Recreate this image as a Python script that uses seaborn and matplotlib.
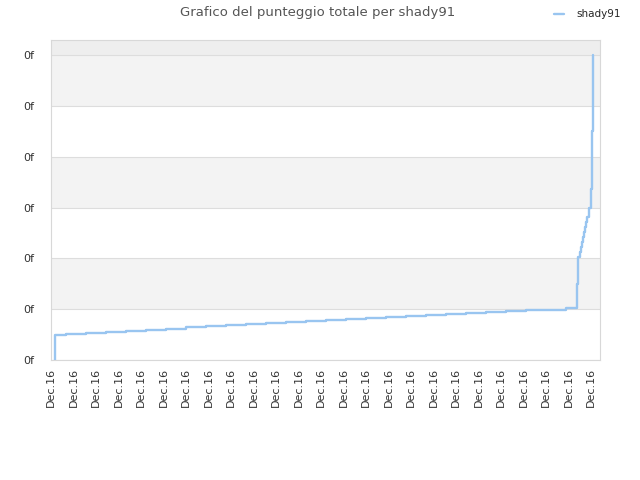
import matplotlib
matplotlib.use("Agg")
import matplotlib.pyplot as plt
import seaborn as sns
import pandas as pd
from matplotlib.ticker import FixedLocator, FixedFormatter

# score history of shady91 (x in tick units, y in grid units)
time_pos = [0.18, 0.18, 0.67, 1.56, 2.44, 3.33, 4.22, 5.11, 6.0, 6.89, 7.78, 8.67,
            9.56, 10.44, 11.33, 12.22, 13.11, 14.0, 14.89, 15.78, 16.67, 17.56,
            18.44, 19.33, 20.22, 21.11, 22.0, 22.89, 23.39, 23.44, 23.49, 23.54,
            23.59, 23.64, 23.69, 23.74, 23.79, 23.84, 23.89, 23.92, 23.99, 24.03,
            24.06, 24.08, 24.10]
score = [0.0, 0.49, 0.52, 0.54, 0.56, 0.58, 0.60, 0.62, 0.64, 0.66, 0.68, 0.70,
         0.72, 0.74, 0.76, 0.78, 0.80, 0.82, 0.84, 0.86, 0.88, 0.90, 0.92, 0.94,
         0.96, 0.98, 0.99, 1.02, 1.50, 2.03, 2.12, 2.22, 2.32, 2.42, 2.52, 2.62,
         2.72, 2.81, 2.90, 2.99, 3.36, 4.13, 4.51, 5.26, 6.0]

x_ticks = list(range(25))
x_labels = ["Dec.16"] * 25
y_ticks = [0, 1, 2, 3, 4, 5, 6]
y_labels = ["0f"] * 7

df = pd.DataFrame({"t": time_pos, "score": score})

sns.set_style("white")
plt.rcParams['font.family'] = ['DejaVu Sans']

fig = plt.figure(figsize=(6.4, 4.8), dpi=100)
ax = fig.add_axes([0.0797, 0.25, 0.8578, 0.6667])

# alternating bands
ax.axhspan(6, 6.3, color="#eeeeee", zorder=0, lw=0)
for lo in [1, 3, 5]:
    ax.axhspan(lo, lo + 1, color="#f3f3f3", zorder=0, lw=0)

sns.lineplot(data=df, x="t", y="score", estimator=None, sort=False,
             drawstyle="steps-post", color="#99c5f0", linewidth=1.7,
             label="shady91", ax=ax, zorder=3, legend=False)

ax.set_xlim(0, 24.4)
ax.set_ylim(0, 6.3)
ax.yaxis.set_major_locator(FixedLocator(y_ticks))
ax.yaxis.set_major_formatter(FixedFormatter(y_labels))
ax.xaxis.set_major_locator(FixedLocator(x_ticks))
ax.xaxis.set_major_formatter(FixedFormatter(x_labels))
ax.grid(axis="y", color="#dddddd", linewidth=0.8)
ax.set_axisbelow(True)
ax.tick_params(axis="both", length=0, labelsize=8, labelcolor="#333333")
ax.tick_params(axis="x", rotation=90, pad=6)
ax.tick_params(axis="y", pad=12)
ax.set_xlabel("")
ax.set_ylabel("")
for s in ax.spines.values():
    s.set_color("#d8d8d8")
    s.set_linewidth(0.8)

fig.text(0.497, 0.987, "Grafico del punteggio totale per shady91",
         ha="center", va="top", fontsize=9.5, color="#555555")
h, l = ax.get_legend_handles_labels()
fig.legend(h, l, loc="upper right", bbox_to_anchor=(0.985, 1.0), frameon=False,
           fontsize=7.5, handlelength=1.0, handletextpad=1.2)

fig.savefig("out.png", dpi=100)
